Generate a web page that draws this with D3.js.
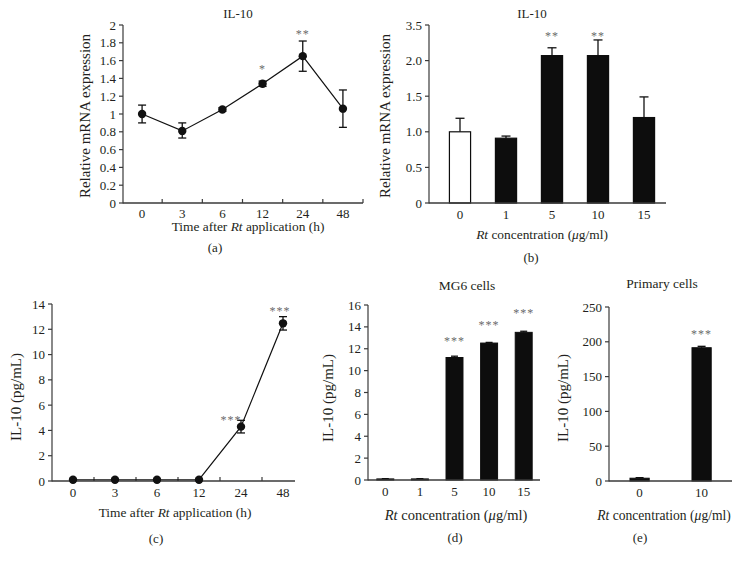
<!DOCTYPE html>
<html><head><meta charset="utf-8">
<script src="https://cdn.jsdelivr.net/npm/d3@7"></script>
<style>body{margin:0;background:#fff}svg{display:block}text{font-family:"Liberation Serif","Times New Roman",serif;fill:#231f20}</style>
</head><body><svg id="c" width="740" height="565"></svg>
<script>
// ---- data ----
const timeCats = ["0","3","6","12","24","48"];
const concCats = ["0","1","5","10","15"];
const primCats = ["0","10"];

const aMean = [1.0, 0.81, 1.05, 1.34, 1.65, 1.06];
const aErrUp = [0.10, 0.09, 0.02, 0.03, 0.17, 0.21];
const aErrDn = [0.10, 0.08, 0.02, 0.03, 0.17, 0.21];
const aStars = ["", "", "", "*", "**", ""];
const aStarAt = [0, 0, 0, 1.54, 1.94, 0];
const aTicks = [0,0.2,0.4,0.6,0.8,1,1.2,1.4,1.6,1.8,2];

const bMean = [1.0, 0.91, 2.07, 2.07, 1.2];
const bErr = [0.19, 0.03, 0.11, 0.22, 0.29];
const bStars = ["", "", "**", "**", ""];
const bStarAt = [0, 0, 2.39, 2.39, 0];
const bTickVals = [0, 0.5, 1, 1.5, 2, 2.5];
const bTickLabels = ["0","0.5","1.0","1.5","2.0","3.5"];

const cMean = [0.1, 0.1, 0.1, 0.1, 4.3, 12.47];
const cErr = [0, 0, 0, 0, 0.5, 0.53];
const cStars = ["", "", "", "", "***", "***"];
const cStarAt = [0, 0, 0, 0, 5.06, 13.7];
const cTicks = [0,2,4,6,8,10,12,14];

const dMean = [0.1, 0.1, 11.2, 12.52, 13.5];
const dErr = [0.02, 0.02, 0.12, 0.06, 0.1];
const dStars = ["", "", "***", "***", "***"];
const dStarAt = [0, 0, 13.0, 14.45, 15.6];
const dTicks = [0,2,4,6,8,10,12,14,16];

const eMean = [4, 191.5];
const eErr = [0.8, 2];
const eStars = ["", "***"];
const eStarAt = [0, 215.5];
const eTicks = [0,50,100,150,200,250];

// ---- drawing ----
const svg = d3.select("#c");
const AX = "#3a3a3a";
const FS = 13;

function yAxis(g, y, x0, vals, labels) {
  g.append("line").attr("x1", x0).attr("x2", x0).attr("y1", y(vals[0]) + 0.5).attr("y2", y(vals[vals.length-1]))
    .attr("stroke", AX).attr("stroke-width", 1.2);
  vals.forEach((v, i) => {
    g.append("line").attr("x1", x0 - 4).attr("x2", x0).attr("y1", y(v)).attr("y2", y(v)).attr("stroke", AX).attr("stroke-width", 1.2);
    g.append("text").attr("x", x0 - 7).attr("y", y(v)).attr("dy", "0.35em").attr("text-anchor", "end")
      .attr("font-size", FS).text(labels ? labels[i] : d3.format("~g")(v));
  });
}
function xAxisLine(g, y0, x0, x1) {
  g.append("line").attr("x1", x0).attr("x2", x1).attr("y1", y0).attr("y2", y0).attr("stroke", AX).attr("stroke-width", 1.4);
}
function xLabels(g, x, cats, y0, off) {
  cats.forEach(c => g.append("text").attr("x", x(c) + x.bandwidth()/2).attr("y", y0 + off)
    .attr("text-anchor", "middle").attr("font-size", FS).text(c));
}
function yTitle(g, cx, cy, txt, fs) {
  g.append("text").attr("transform", `translate(${cx},${cy}) rotate(-90)`).attr("text-anchor", "middle")
    .attr("dy", "0.35em").attr("font-size", fs).text(txt);
}
function xTitleTime(g, cx, y, fs) {
  const t = g.append("text").attr("x", cx).attr("y", y).attr("text-anchor", "middle").attr("font-size", fs);
  t.append("tspan").text("Time after ");
  t.append("tspan").attr("font-style", "italic").text("Rt");
  t.append("tspan").text(" application (h)");
}
function xTitleConc(g, cx, y, fs) {
  const t = g.append("text").attr("x", cx).attr("y", y).attr("text-anchor", "middle").attr("font-size", fs);
  t.append("tspan").attr("font-style", "italic").text("Rt");
  t.append("tspan").text(" concentration (");
  t.append("tspan").attr("font-style", "italic").text("μ");
  t.append("tspan").text("g/ml)");
}
function plainText(g, x, y, txt, fs) {
  g.append("text").attr("x", x).attr("y", y).attr("text-anchor", "middle").attr("font-size", fs || FS).text(txt);
}
function stars(g, xs, y, marks, at, dxs) {
  marks.forEach((m, i) => {
    if (!m) return;
    g.append("text").attr("x", xs[i] + (dxs ? dxs[i] : 0)).attr("y", y(at[i])).attr("dy", "0.62em")
      .attr("text-anchor", "middle").attr("font-size", 12).attr("letter-spacing", "1px")
      .style("fill", "#6a6a6a").text(m);
  });
}
function errBar(g, cx, yTop, yBot, cap) {
  g.append("line").attr("x1", cx).attr("x2", cx).attr("y1", yTop).attr("y2", yBot).attr("stroke", "#111").attr("stroke-width", 1.3);
  g.append("line").attr("x1", cx - cap/2).attr("x2", cx + cap/2).attr("y1", yTop).attr("y2", yTop).attr("stroke", "#111").attr("stroke-width", 1.3);
}

// Panel (a)
(function(){
  const g = svg.append("g");
  const x = d3.scaleBand().domain(timeCats).range([122, 363]);
  const y = d3.scaleLinear().domain([0, 2]).range([203, 25]);
  const cx = timeCats.map(c => x(c) + x.bandwidth()/2);
  yAxis(g, y, 123, aTicks);
  xAxisLine(g, 203, 123, 363);
  timeCats.forEach((c, i) => { if (i > 0) g.append("line").attr("x1", x(c)).attr("x2", x(c)).attr("y1", 203).attr("y2", 199).attr("stroke", AX).attr("stroke-width", 1.2); });
  g.append("line").attr("x1", 363).attr("x2", 363).attr("y1", 203).attr("y2", 199).attr("stroke", AX).attr("stroke-width", 1.2);
  xLabels(g, x, timeCats, 203, 14.5);
  g.append("path").datum(aMean).attr("fill", "none").attr("stroke", "#111").attr("stroke-width", 1.2)
    .attr("d", d3.line().x((d, i) => cx[i]).y(d => y(d)));
  aMean.forEach((m, i) => {
    const t = y(m + aErrUp[i]), b = y(m - aErrDn[i]);
    g.append("line").attr("x1", cx[i]).attr("x2", cx[i]).attr("y1", t).attr("y2", b).attr("stroke", "#111").attr("stroke-width", 1.3);
    [t, b].forEach(yy => g.append("line").attr("x1", cx[i] - 4).attr("x2", cx[i] + 4).attr("y1", yy).attr("y2", yy).attr("stroke", "#111").attr("stroke-width", 1.3));
    g.append("circle").attr("cx", cx[i]).attr("cy", y(m)).attr("r", 4.2).attr("fill", "#111");
  });
  stars(g, cx, y, aStars, aStarAt);
  plainText(g, 238, 18, "IL-10");
  yTitle(g, 85, 116, "Relative mRNA expression", 15);
  xTitleTime(g, 248, 231, 13.4);
  plainText(g, 215, 252, "(a)");
})();

// Panel (b)
(function(){
  const g = svg.append("g");
  const x = d3.scaleBand().domain(concCats).range([437, 667]).paddingInner(0.54).paddingOuter(0.27);
  const y = d3.scaleLinear().domain([0, 2.5]).range([203, 25]);
  const cx = concCats.map(c => x(c) + x.bandwidth()/2);
  bMean.forEach((m, i) => {
    errBar(g, cx[i], y(m + bErr[i]), y(m), 9);
    g.append("rect").attr("x", x(concCats[i])).attr("width", x.bandwidth()).attr("y", y(m)).attr("height", y(0) - y(m))
      .attr("fill", i === 0 ? "#fff" : "#0d0d0d").attr("stroke", "#0d0d0d").attr("stroke-width", 1.2);
  });
  yAxis(g, y, 429, bTickVals, bTickLabels);
  xAxisLine(g, 203, 429, 666);
  xLabels(g, x, concCats, 203, 16);
  stars(g, cx, y, bStars, bStarAt);
  plainText(g, 532, 18, "IL-10");
  yTitle(g, 385, 116, "Relative mRNA expression", 15);
  xTitleConc(g, 542, 239, 13.4);
  plainText(g, 531, 262, "(b)");
})();

// Panel (c)
(function(){
  const g = svg.append("g");
  const x = d3.scaleBand().domain(timeCats).range([52, 304]);
  const y = d3.scaleLinear().domain([0, 14]).range([481, 304]);
  const cx = timeCats.map(c => x(c) + x.bandwidth()/2);
  yAxis(g, y, 52, cTicks);
  xAxisLine(g, 481, 52, 295);
  timeCats.forEach((c, i) => { if (i > 0) g.append("line").attr("x1", x(c)).attr("x2", x(c)).attr("y1", 481).attr("y2", 477).attr("stroke", AX).attr("stroke-width", 1.2); });
  xLabels(g, x, timeCats, 481, 16);
  g.append("path").datum(cMean).attr("fill", "none").attr("stroke", "#111").attr("stroke-width", 1.2)
    .attr("d", d3.line().x((d, i) => cx[i]).y(d => y(d)));
  cMean.forEach((m, i) => {
    if (cErr[i] > 0) {
      const t = y(m + cErr[i]), b = y(m - cErr[i]);
      g.append("line").attr("x1", cx[i]).attr("x2", cx[i]).attr("y1", t).attr("y2", b).attr("stroke", "#111").attr("stroke-width", 1.3);
      [t, b].forEach(yy => g.append("line").attr("x1", cx[i] - 4).attr("x2", cx[i] + 4).attr("y1", yy).attr("y2", yy).attr("stroke", "#111").attr("stroke-width", 1.3));
    }
    g.append("circle").attr("cx", cx[i]).attr("cy", y(m)).attr("r", 4.2).attr("fill", "#111");
  });
  stars(g, cx, y, cStars, cStarAt, [0,0,0,0,-10,-3]);
  yTitle(g, 16, 397, "IL-10 (pg/mL)", 15);
  xTitleTime(g, 175, 517, 13.4);
  plainText(g, 156, 543, "(c)");
})();

// Panel (d)
(function(){
  const g = svg.append("g");
  const x = d3.scaleBand().domain(concCats).range([368, 541]).paddingInner(0.51).paddingOuter(0.255);
  const y = d3.scaleLinear().domain([0, 16]).range([480, 305]);
  const cx = concCats.map(c => x(c) + x.bandwidth()/2);
  dMean.forEach((m, i) => {
    errBar(g, cx[i], y(m + dErr[i]), y(m), 7);
    g.append("rect").attr("x", x(concCats[i])).attr("width", x.bandwidth()).attr("y", y(m)).attr("height", y(0) - y(m))
      .attr("fill", "#0d0d0d").attr("stroke", "#0d0d0d").attr("stroke-width", 1);
  });
  yAxis(g, y, 368, dTicks);
  xAxisLine(g, 480, 368, 540);
  xLabels(g, x, concCats, 480, 16);
  stars(g, cx, y, dStars, dStarAt);
  plainText(g, 467, 290, "MG6 cells", 13.5);
  yTitle(g, 328, 398, "IL-10 (pg/mL)", 15);
  xTitleConc(g, 456, 520, 14.5);
  plainText(g, 455, 542, "(d)");
})();

// Panel (e)
(function(){
  const g = svg.append("g");
  const x = d3.scaleBand().domain(primCats).range([608.6, 732.6]).paddingInner(0.69).paddingOuter(0.345);
  const y = d3.scaleLinear().domain([0, 250]).range([481, 307]);
  const cx = primCats.map(c => x(c) + x.bandwidth()/2);
  eMean.forEach((m, i) => {
    errBar(g, cx[i], y(m + eErr[i]), y(m), 8);
    g.append("rect").attr("x", x(primCats[i])).attr("width", x.bandwidth()).attr("y", y(m)).attr("height", y(0) - y(m))
      .attr("fill", "#0d0d0d").attr("stroke", "#0d0d0d").attr("stroke-width", 1);
  });
  yAxis(g, y, 609, eTicks);
  xAxisLine(g, 481, 609, 732);
  xLabels(g, x, primCats, 481, 16);
  stars(g, cx, y, eStars, eStarAt);
  plainText(g, 662, 288, "Primary cells", 13.5);
  yTitle(g, 563, 398, "IL-10 (pg/mL)", 15);
  xTitleConc(g, 664, 520, 13.6);
  plainText(g, 640, 542, "(e)");
})();
</script></body></html>
